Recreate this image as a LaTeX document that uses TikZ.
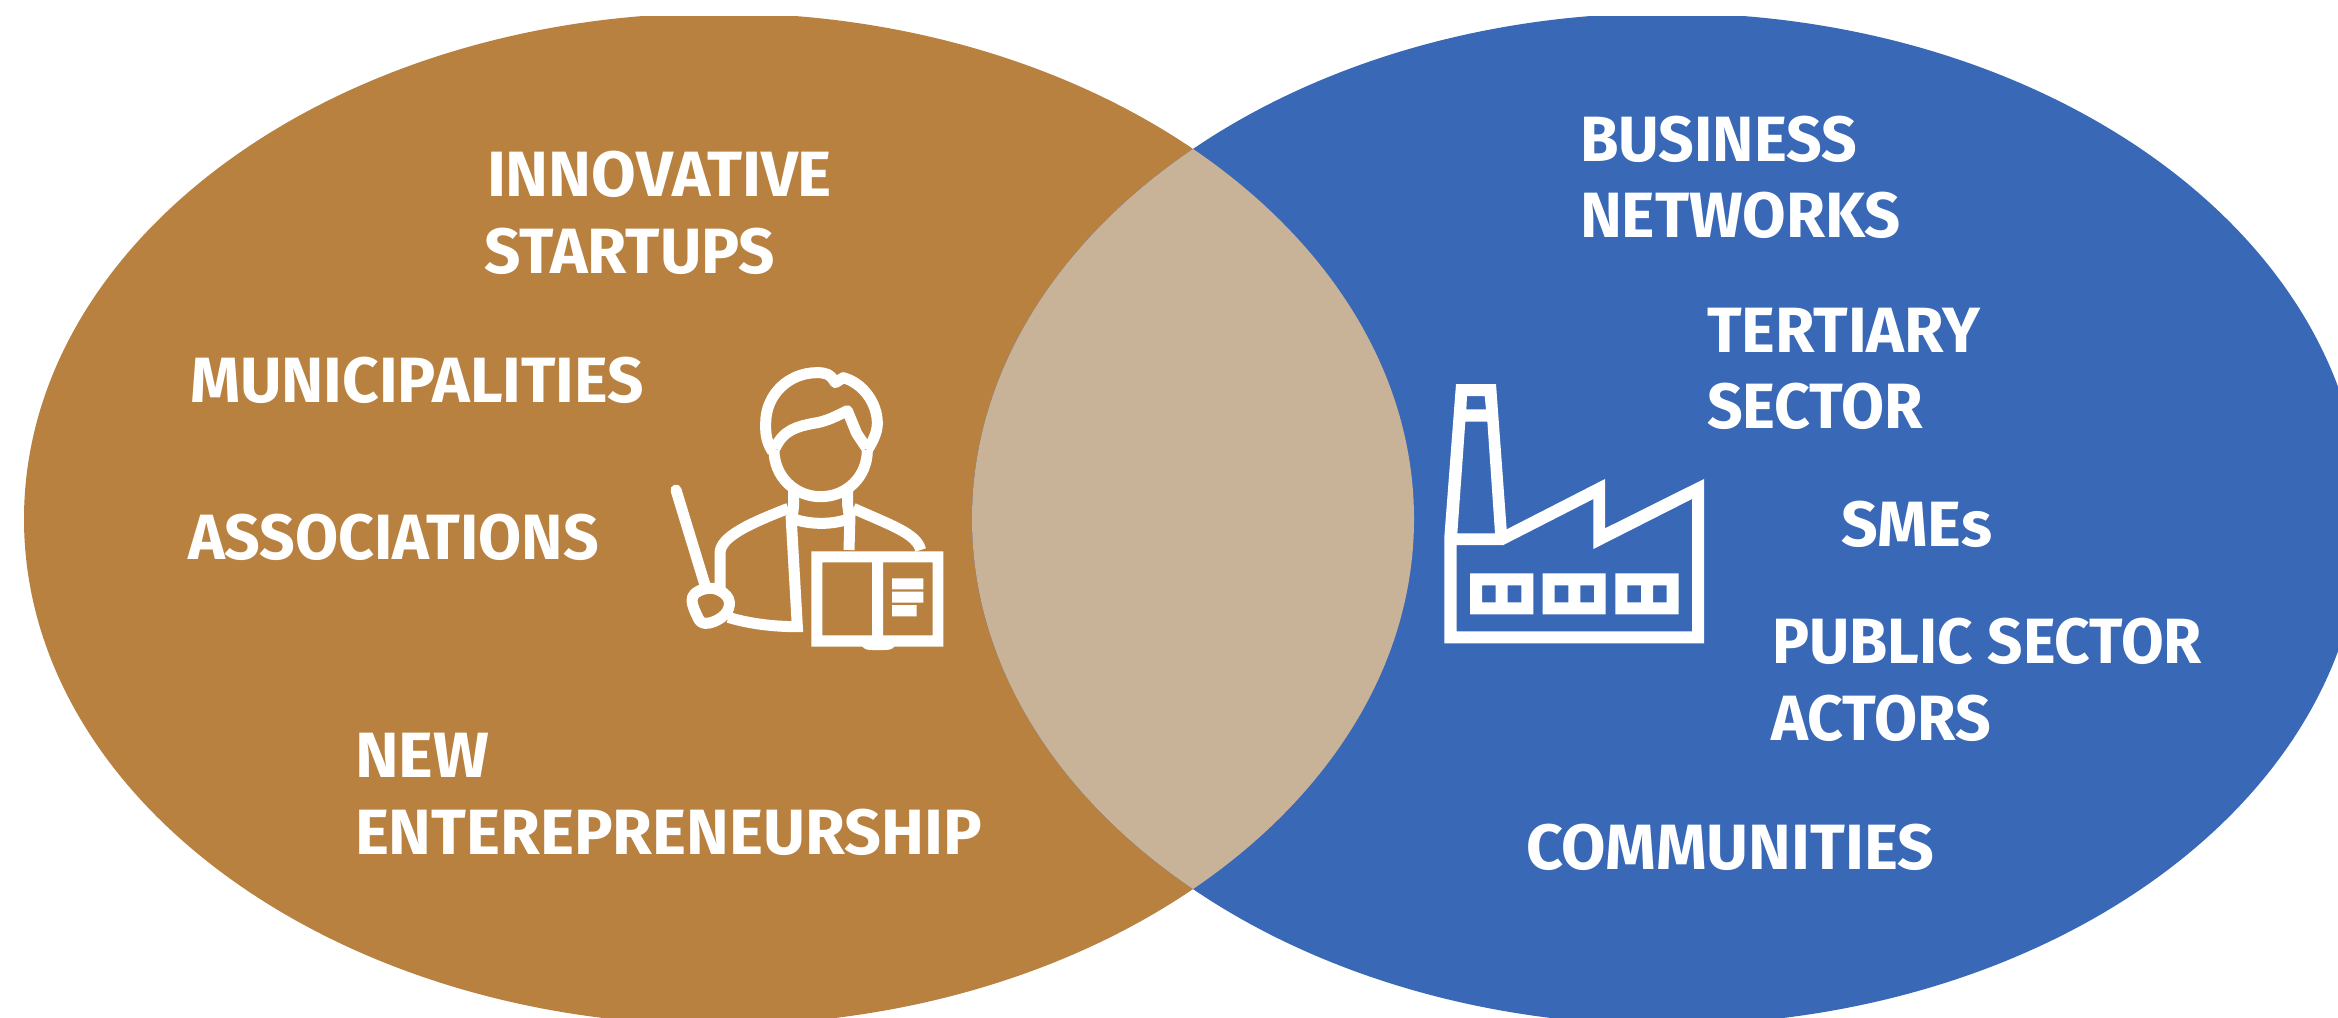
\documentclass[tikz,border=0pt]{standalone}
\usepackage{fontspec}
\setmainfont{Fira Sans}
\definecolor{brownc}{HTML}{B88140}
\definecolor{bluec}{HTML}{3868B6}
\definecolor{lensc}{HTML}{C8B298}
\tikzset{
  lbl/.style={anchor=base west,inner sep=0pt,outer sep=0pt,text=white,font=\fontsize{32}{36}\selectfont\bfseries},
  iconline/.style={draw=white,line width=5.5pt,line join=round,fill=none},
  iconzoom/.style={x=0.166667pt,y=-0.166667pt}
}
\newlength{\lblnat}
\newcommand{\lblat}[5]{\node[lbl] (#1) at (#2,#3) {\settowidth{\lblnat}{#5}\pgfmathsetmacro{\lblratio}{#4/\lblnat}\addfontfeature{FakeStretch=\lblratio}#5};}
\begin{document}
\begin{tikzpicture}[x=0.5pt,y=-0.5pt]
\useasboundingbox (0,0) rectangle (2338,1017);
\begin{scope}
  \clip (0,16) rectangle (2338,1017);
  \fill[brownc] (719,519) ellipse [x radius=695,y radius=506];
  \fill[bluec] (1667,519) ellipse [x radius=695,y radius=506];
  \begin{scope}
    \clip (719,519) ellipse [x radius=695,y radius=506];
    \fill[lensc] (1667,519) ellipse [x radius=695,y radius=506];
  \end{scope}
\end{scope}
% labels
\lblat{a1}{487}{196}{172.5}{INNOVATIVE}
\lblat{a2}{484}{273}{145.5}{STARTUPS}
\lblat{a3}{190}{402}{227}{MUNICIPALITIES}
\lblat{a4}{188}{559}{205.5}{ASSOCIATIONS}
\lblat{a5}{355}{777}{67}{NEW}
\lblat{a6}{355}{854}{313.5}{ENTEREPRENEURSHIP}
\lblat{b1}{1580}{161}{138.5}{BUSINESS}
\lblat{b2}{1580}{237}{160.5}{NETWORKS}
\lblat{b3}{1707}{352}{136.5}{TERTIARY}
\lblat{b4}{1707}{428}{108}{SECTOR}
\lblat{b5}{1841}{546}{75.5}{SMEs}
\lblat{b6}{1772}{663}{215}{PUBLIC SECTOR}
\lblat{b7}{1771}{740}{110}{ACTORS}
\lblat{b8}{1526}{869}{204}{COMMUNITIES}
% factory icon
\begin{scope}[shift={(1400,360)},iconzoom]
  \fill[white,even odd rule]
    (168,72) -- (288,72) -- (320,508) -- (615,357) -- (615,505) -- (912,357) -- (912,850) -- (133,850) -- (133,530) -- cycle
    (170,555) -- (310,555) -- (580,417) -- (580,567) -- (876,417) -- (876,814) -- (170,814) -- cycle
    (196,185) -- (262,185) -- (285,520) -- (172,520) -- cycle
    (201,108) -- (254,108) -- (258,148) -- (199,148) -- cycle
    (210,640) rectangle (400,763) (246,676) rectangle (287,727) (323,676) rectangle (364,727)
    (428,640) rectangle (617,763) (464,676) rectangle (505,727) (541,676) rectangle (582,727)
    (646,640) rectangle (836,763) (682,676) rectangle (723,727) (759,676) rectangle (800,727);
\end{scope}
% teacher icon
\begin{scope}[shift={(650,340)},iconzoom]
  % pointer and hand
  \draw[iconline,line cap=round] (78,450) -- (165,735);
  \draw[iconline] plot[smooth cycle,tension=0.7] coordinates {(128,770) (175,745) (222,760) (238,795) (215,832) (165,850) (140,825)};
  % arm and jacket
  \draw[iconline] (415,505) .. controls (300,550) and (210,590) .. (210,640) -- (210,745);
  \draw[iconline,line join=miter] (235,832) .. controls (310,855) and (390,860) .. (442,860) -- (423,525);
  \draw[iconline] (610,505) .. controls (720,555) and (800,580) .. (812,630);
  \draw[iconline] (597,630) -- (600,525);
  % collar and neck
  \draw[iconline] (425,535) .. controls (480,555) and (550,555) .. (600,535);
  \draw[iconline] (431,450) -- (431,495) -- (427,530);
  \draw[iconline] (593,450) -- (593,495) -- (598,530);
  % face
  \draw[iconline] (372,330) .. controls (372,410) and (435,470) .. (512,470) .. controls (590,470) and (652,410) .. (652,330);
  % hair
  \draw[iconline] (368,335) .. controls (345,300) and (347,270) .. (347,250) .. controls (347,160) and (420,98) .. (500,98) .. controls (525,98) and (540,100) .. (556,128) -- (580,113) .. controls (640,130) and (682,190) .. (682,250) .. controls (682,280) and (665,310) .. (652,330);
  \draw[iconline] (375,325) .. controls (400,270) and (440,260) .. (490,250) .. controls (530,245) and (565,225) .. (592,212) -- (620,280) -- (650,325);
  % book
  \fill[white,even odd rule]
    (484,634) rectangle (880,920)
    (517,667) rectangle (666,886)
    (699,667) rectangle (848,886)
    (726,715) rectangle (820,748)
    (726,755) rectangle (820,788)
    (726,795) rectangle (800,829);
  \fill[white] (635,918) .. controls (645,930) and (655,930) .. (670,930) -- (700,930) .. controls (715,930) and (725,930) .. (735,918) -- cycle;
\end{scope}
\end{tikzpicture}
\end{document}
